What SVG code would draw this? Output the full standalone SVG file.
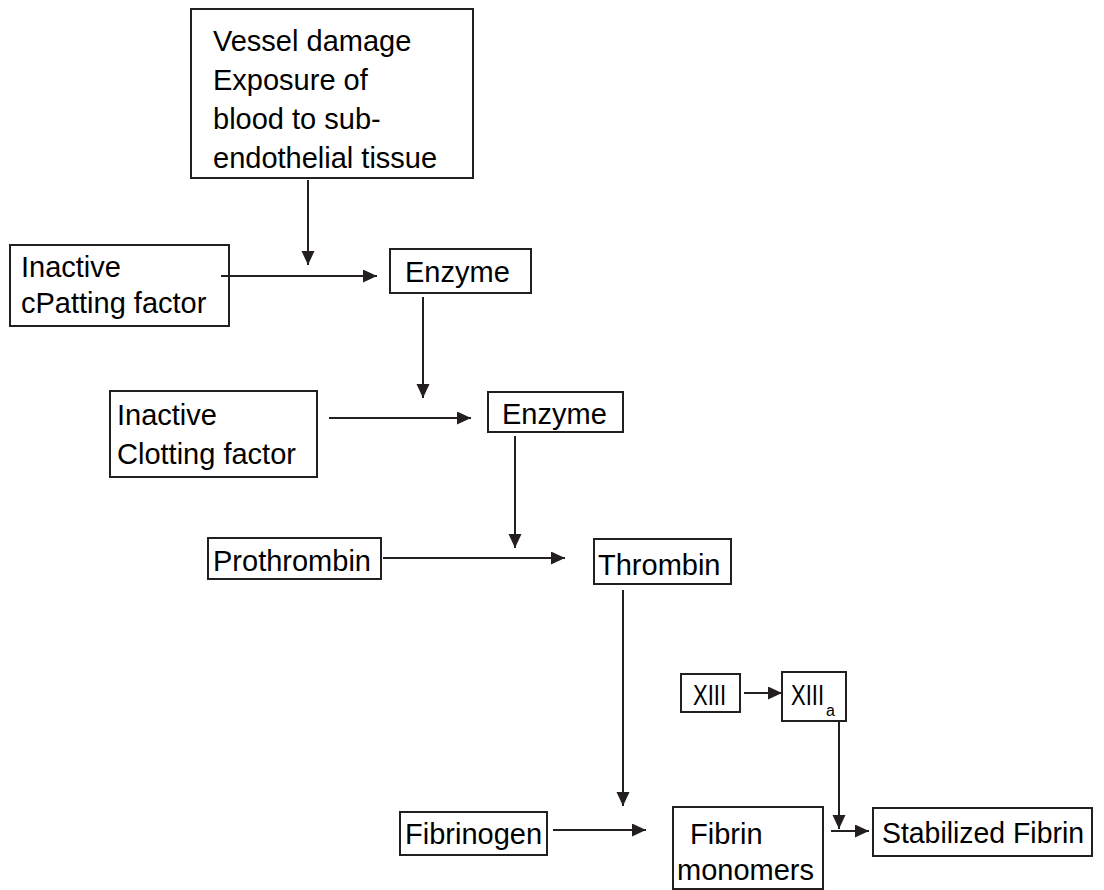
<svg xmlns="http://www.w3.org/2000/svg" width="1104" height="890" viewBox="0 0 1104 890">
<defs>
<marker id="ah" markerWidth="15" markerHeight="14" refX="14" refY="6.5" orient="auto" markerUnits="userSpaceOnUse">
<path d="M0,0 L14,6.5 L0,13 Z" fill="#231f20"/>
</marker>
<style>
.box{fill:#fff;stroke:#231f20;stroke-width:2}
.t{font-family:"Liberation Sans",Arial,sans-serif;font-size:29px;fill:#000}
.c{fill:none;stroke:#231f20;stroke-width:2;marker-end:url(#ah)}
</style>
</defs>
<rect width="1104" height="890" fill="#fff"/>
<g id="vessel">
<rect class="box" x="191" y="9" width="282" height="169"/>
<text class="t" x="213" y="51">Vessel damage</text>
<text class="t" x="213" y="90">Exposure of</text>
<text class="t" x="213" y="129">blood to sub-</text>
<text class="t" x="213" y="168">endothelial tissue</text>
</g>
<g id="inactive1">
<rect class="box" x="10" y="245" width="219" height="81"/>
<text class="t" x="21" y="277">Inactive</text>
<text class="t" x="21" y="313">cPatting factor</text>
</g>
<g id="enzyme1">
<rect class="box" x="390" y="249" width="141" height="44"/>
<text class="t" x="405" y="282">Enzyme</text>
</g>
<g id="inactive2">
<rect class="box" x="110" y="391" width="207" height="86"/>
<text class="t" x="117" y="425">Inactive</text>
<text class="t" x="117" y="464">Clotting factor</text>
</g>
<g id="enzyme2">
<rect class="box" x="488" y="392" width="135" height="40"/>
<text class="t" x="502" y="424">Enzyme</text>
</g>
<g id="prothrombin">
<rect class="box" x="208" y="538" width="173" height="41"/>
<text class="t" x="213" y="571">Prothrombin</text>
</g>
<g id="thrombin">
<rect class="box" x="594" y="539" width="137" height="45"/>
<text class="t" x="598" y="575">Thrombin</text>
</g>
<g id="xiii">
<rect class="box" x="681" y="674" width="59" height="38"/>
<text class="t" x="693" y="705" textLength="33" lengthAdjust="spacingAndGlyphs">XIII</text>
</g>
<g id="xiiia">
<rect class="box" x="782" y="672" width="64" height="49"/>
<text class="t" x="791" y="705"><tspan textLength="33" lengthAdjust="spacingAndGlyphs">XIII</tspan><tspan dx="2" dy="11" style="font-size:16px">a</tspan></text>
</g>
<g id="fibrinogen">
<rect class="box" x="400" y="812" width="147" height="43"/>
<text class="t" x="405" y="844">Fibrinogen</text>
</g>
<g id="fibrin">
<rect class="box" x="673" y="807" width="150" height="82"/>
<text class="t" x="690" y="844">Fibrin</text>
<text class="t" x="677" y="880">monomers</text>
</g>
<g id="stabilized">
<rect class="box" x="873" y="808" width="219" height="48"/>
<text class="t" x="882" y="843" textLength="202" lengthAdjust="spacingAndGlyphs">Stabilized Fibrin</text>
</g>
<g id="connectors">
<line class="c" x1="308" y1="180" x2="308" y2="265"/>
<line class="c" x1="221" y1="276" x2="377" y2="276"/>
<line class="c" x1="423" y1="297" x2="423" y2="398"/>
<line class="c" x1="329" y1="418" x2="471" y2="418"/>
<line class="c" x1="515" y1="436" x2="515" y2="548"/>
<line class="c" x1="383" y1="558" x2="565" y2="558"/>
<line class="c" x1="623" y1="590" x2="623" y2="806"/>
<line class="c" x1="744" y1="693" x2="782" y2="693"/>
<line class="c" x1="839" y1="721" x2="839" y2="829"/>
<line class="c" x1="553" y1="830" x2="646" y2="830"/>
<line class="c" x1="831" y1="831" x2="869" y2="831"/>
</g>
</svg>
